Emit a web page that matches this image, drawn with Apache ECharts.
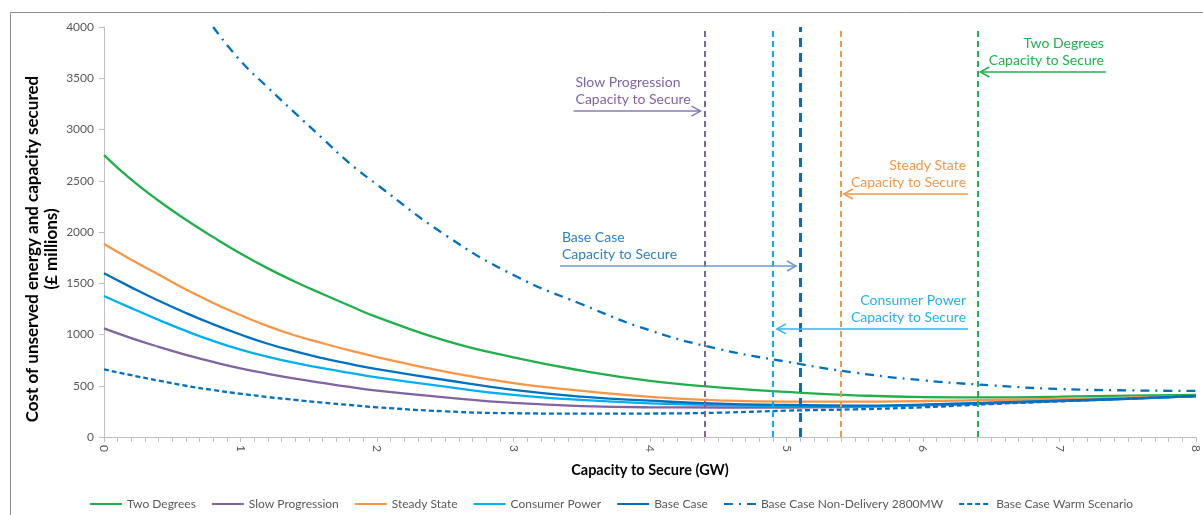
<!DOCTYPE html>
<html><head><meta charset="utf-8">
<script src="https://cdn.jsdelivr.net/npm/echarts@6/dist/echarts.min.js"></script>
<style>html,body{margin:0;padding:0;background:#fff;}#c{width:1203px;height:515px;}</style>
</head><body><div id="c"></div>
<script>
// ---- data ----
const capacity = [0,0.2,0.4,0.6,0.8,1,1.2,1.4,1.6,1.8,2,2.5,3,3.5,4,4.5,5,5.5,6,6.5,7,7.5,8];
const twoDegrees      = [2750,2510,2305,2120,1950,1790,1645,1515,1395,1280,1170,940,777,647,548,485,440,407,390,387,393,403,410];
const slowProgression = [1060,965,880,802,732,670,617,570,528,488,452,387,332,302,290,288,288,295,308,328,350,372,398];
const steadyState     = [1883,1730,1585,1440,1308,1190,1082,990,915,845,780,637,525,450,392,358,345,345,351,361,371,384,400];
const consumerPower   = [1376,1257,1143,1035,937,852,782,722,672,626,582,491,410,361,328,312,302,300,312,332,352,372,398];
const baseCase        = [1597,1460,1330,1210,1100,1000,910,835,770,713,663,556,460,393,354,325,312,306,316,335,354,374,400];
const nonDelivery     = [null,null,null,null,4000,3670,3410,3160,2914,2670,2462,1971,1580,1295,1040,860,735,628,553,504,468,455,449];
const warmScenario    = [660,603,550,500,458,422,390,362,336,312,290,250,232,228,229,237,257,270,290,322,348,374,400];
const seriesNames = ['Two Degrees','Slow Progression','Steady State','Consumer Power','Base Case','Base Case Non-Delivery 2800MW','Base Case Warm Scenario'];
const capacityToSecure = { 'Two Degrees':6.4, 'Slow Progression':4.4, 'Steady State':5.4, 'Consumer Power':4.9, 'Base Case':5.1 };
const yTicks = [0,500,1000,1500,2000,2500,3000,3500,4000];
const xTicks = [0,1,2,3,4,5,6,7,8];
const noteLines = [
  ['Slow Progression','Capacity to Secure'],
  ['Base Case','Capacity to Secure'],
  ['Steady State','Capacity to Secure'],
  ['Consumer Power','Capacity to Secure'],
  ['Two Degrees','Capacity to Secure']
];
// annotation layout (arrow start x, arrow end x, arrow y in data units) - layout only
const noteLayout = [
  {from:3.44, to:4.37, y:3180, align:'left',  color:'#8064A2', arrow:'#8E78B5'},
  {from:3.34, to:5.07, y:1668, align:'left',  color:'#2F7EC6', arrow:'#6F98D2'},
  {from:6.33, to:5.42, y:2371, align:'right', color:'#F79646', arrow:'#F79646'},
  {from:6.33, to:4.93, y:1054, align:'right', color:'#1FB4EE', arrow:'#30B4EE'},
  {from:7.34, to:6.42, y:3561, align:'right', color:'#22B14C', arrow:'#22B14C'}
];

const FONT = 'Lato';
const colors = {
  'Two Degrees':'#20B04B','Slow Progression':'#8064A2','Steady State':'#F79646',
  'Consumer Power':'#00B0F0','Base Case':'#0070C0',
  'Base Case Non-Delivery 2800MW':'#0070C0','Base Case Warm Scenario':'#0070C0'
};
const values = [twoDegrees, slowProgression, steadyState, consumerPower, baseCase, nonDelivery, warmScenario];
const lineTypes = ['solid','solid','solid','solid','solid',[9,6,2,6],[5,3]];
const vlineStyle = {
  'Two Degrees':{type:[6,4],width:2}, 'Slow Progression':{type:[6,4],width:2},
  'Steady State':{type:[6,4],width:2}, 'Consumer Power':{type:[6,4],width:2},
  'Base Case':{type:[9,6],width:3}
};

const series = seriesNames.map((name, i) => {
  const s = {
    name, type:'line', smooth:0.5, symbol:'none', showSymbol:false,
    data: capacity.map((x,j) => [x, values[i][j]]),
    lineStyle:{color:colors[name], width:2.3, type: lineTypes[i]},
    itemStyle:{color:colors[name]},
    emphasis:{disabled:true}
  };
  if (capacityToSecure[name] !== undefined) {
    s.markLine = {
      silent:true, symbol:['none','none'], label:{show:false},
      lineStyle:{color:colors[name], type:vlineStyle[name].type, width:vlineStyle[name].width},
      data:[{xAxis:capacityToSecure[name]}],
      animation:false
    };
  }
  return s;
});

series.push({
  type:'custom', name:'notes', clip:false, silent:true, z:10,
  data: noteLayout.map((n,i)=>[n.from, n.y, i]),
  renderItem(params, api) {
    const n = noteLayout[params.dataIndex];
    const p1 = api.coord([n.from, n.y]);
    const p2 = api.coord([n.to, n.y]);
    const dir = Math.sign(p2[0]-p1[0]);
    const tx = n.align === 'left' ? p1[0] + 2 : p1[0] - 2;
    return {
      type:'group',
      children:[
        {type:'line', shape:{x1:p1[0],y1:p1[1],x2:p2[0],y2:p2[1]}, style:{stroke:n.arrow, lineWidth:1.5}},
        {type:'polyline', shape:{points:[[p2[0]-dir*9,p2[1]-5],[p2[0],p2[1]],[p2[0]-dir*9,p2[1]+5]]}, style:{stroke:n.arrow, lineWidth:1.5, fill:null}},
        {type:'text', x:tx, y:p1[1]-3, style:{
          text: noteLines[params.dataIndex].join('\n'), fill:n.color, font:'14px '+FONT,
          align:n.align, verticalAlign:'bottom', lineHeight:17
        }}
      ]
    };
  }
});

const chart = echarts.init(document.getElementById('c'), null, {renderer:'canvas'});
chart.setOption({
  animation:false,
  backgroundColor:'#fff',
  textStyle:{fontFamily:FONT},
  graphic:[{type:'rect', shape:{x:10.5,y:12.5,width:1200,height:520}, style:{fill:null, stroke:'#8c8c8c', lineWidth:1}, silent:true, z:-1}],
  grid:{left:104, right:7, top:27, bottom:78},
  legend:{
    data: seriesNames, left:84, top:493, itemWidth:32, itemHeight:10, itemGap:15,
    itemStyle:{opacity:0},
    textStyle:{color:'#595959', fontSize:12, fontFamily:FONT}, selectedMode:false
  },
  xAxis:{
    type:'value', min:xTicks[0], max:xTicks[xTicks.length-1], interval:1,
    name:'Capacity to Secure (GW)', nameLocation:'middle', nameGap:26, nameMoveOverlap:false,
    nameTextStyle:{fontWeight:'bold', fontSize:14.5, color:'#000', fontFamily:FONT},
    axisLine:{lineStyle:{color:'#bfbfbf'}},
    axisTick:{show:true, length:5, lineStyle:{color:'#bfbfbf'}},
    minorTick:{show:true, splitNumber:10, length:5, lineStyle:{color:'#bfbfbf'}},
    splitLine:{show:false},
    axisLabel:{rotate:-90, color:'#595959', fontSize:12, margin:8, formatter:v=>String(v)}
  },
  yAxis:{
    type:'value', min:yTicks[0], max:yTicks[yTicks.length-1], interval:500,
    name:'Cost of unserved energy and capacity secured\n(£ millions)', nameLocation:'middle', nameGap:43, nameMoveOverlap:false,
    nameTextStyle:{fontWeight:'bold', fontSize:17, color:'#000', lineHeight:19, fontFamily:FONT, padding:[0,34,0,0]},
    axisLine:{show:true, lineStyle:{color:'#bfbfbf'}},
    axisTick:{show:true, length:5, lineStyle:{color:'#bfbfbf'}},
    splitLine:{show:false},
    axisLabel:{color:'#595959', fontSize:12, margin:10, formatter:v=>String(v)}
  },
  series
});
</script></body></html>
